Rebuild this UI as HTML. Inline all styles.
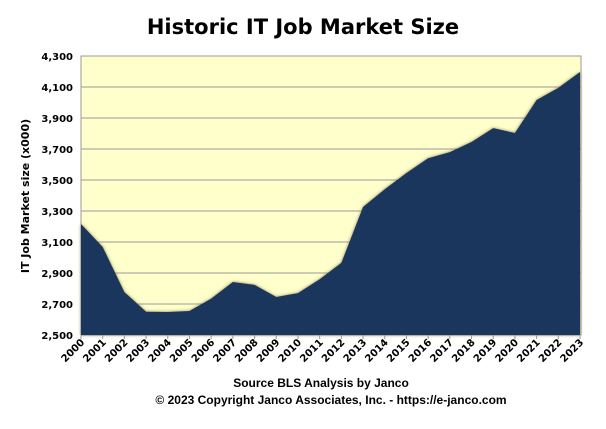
<!DOCTYPE html>
<html><head><meta charset="utf-8"><style>
body{margin:0;background:#fff;}
svg text{font-family:"DejaVu Sans","Liberation Sans",sans-serif;font-weight:bold;fill:#000;}
svg text.lib{font-family:"Liberation Sans",sans-serif;}
</style></head><body>
<svg width="606" height="424" xmlns="http://www.w3.org/2000/svg">
<defs><filter id="glow" x="-5%" y="-5%" width="110%" height="110%"><feGaussianBlur stdDeviation="1.5"/></filter></defs>
<text x="303" y="34" text-anchor="middle" font-size="21">Historic IT Job Market Size</text>
<rect x="81" y="56" width="500" height="279" fill="#ffffcc" stroke="#999"/>
<g id="grid"></g>
<g id="area"></g>
<g id="yticks"></g>
<g id="xticks"></g>
<text transform="translate(29,196) rotate(-90)" text-anchor="middle" font-size="11">IT Job Market size (x000)</text>
<text class="lib" x="321" y="387" text-anchor="middle" font-size="12">Source BLS Analysis  by Janco</text>
<text class="lib" x="331" y="404" text-anchor="middle" font-size="12">© 2023 Copyright Janco Associates, Inc. - https://e-janco.com</text>
</svg>
<script>
const years=["2000","2001","2002","2003","2004","2005","2006","2007","2008","2009","2010","2011","2012","2013","2014","2015","2016","2017","2018","2019","2020","2021","2022","2023"];
const jobs=[3216,3068,2777,2650,2648,2655,2735,2842,2823,2745,2770,2860,2965,3326,3440,3545,3640,3680,3745,3835,3803,4016,4094,4197];
const yTicks=[2500,2700,2900,3100,3300,3500,3700,3900,4100,4300];
const NS="http://www.w3.org/2000/svg";
const x0=81,x1=580,yTop=56,yBot=335,vMin=2500,vMax=4300;
const xs=i=>x0+i*(x1-x0)/(years.length-1);
const ys=v=>yBot-(v-vMin)/(vMax-vMin)*(yBot-yTop);
function mk(tag,attrs,parent){const e=document.createElementNS(NS,tag);for(const k in attrs)e.setAttribute(k,attrs[k]);parent.appendChild(e);return e;}
const grid=document.getElementById('grid'),yt=document.getElementById('yticks'),xt=document.getElementById('xticks'),area=document.getElementById('area');
yTicks.forEach(v=>{
  if(v>vMin&&v<vMax){const l=mk('line',{x1:x0,x2:x0+500,y1:ys(v),y2:ys(v),stroke:'#999','stroke-width':1},grid);
  
  }
  const t=mk('text',{x:73,y:ys(v)+4,'text-anchor':'end','font-size':'10'},yt);
  t.textContent=v.toLocaleString('en-US');
  
  
});
let d='M'+xs(0)+','+yBot;
jobs.forEach((v,i)=>{d+=' L'+xs(i)+','+ys(v);});
d+=' L'+xs(jobs.length-1)+','+yBot+' Z';
const sh=mk('path',{d:d,fill:'#8a8050',filter:'url(#glow)'},area);


const ar=mk('path',{d:d,fill:'#1b365d'},area);


years.forEach((y,i)=>{
  const x=xs(i);
  mk('line',{x1:x,x2:x,y1:yBot,y2:yBot+4,stroke:'#999'},xt);
  const t=mk('text',{transform:'translate('+(x+4)+','+(yBot+8)+') rotate(-45)','text-anchor':'end','font-size':'10'},xt);
  t.textContent=y;
  
  
});
</script>
</body></html>
